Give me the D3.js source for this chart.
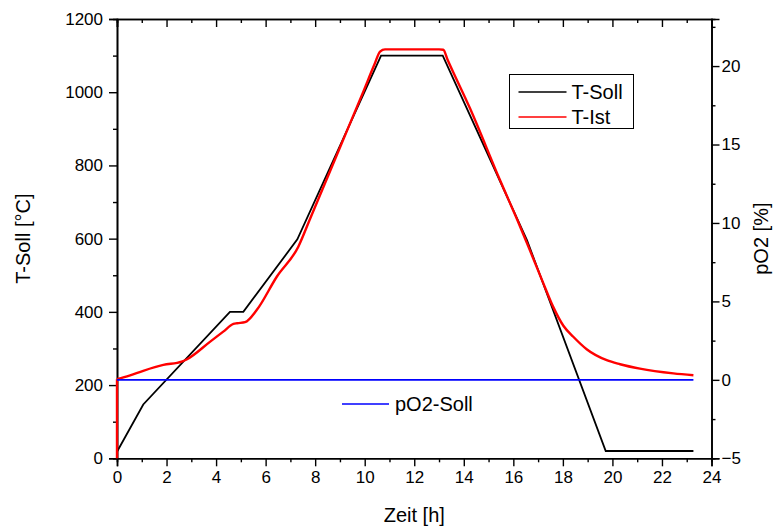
<!DOCTYPE html>
<html>
  <head>
    <meta charset="utf-8" />
    <style>
      body { margin: 0; background: #fff; }
      text { font-family: "Liberation Sans", Arial, sans-serif; fill: #000; }
    </style>
  </head>
  <body>
    <div id="chart"></div>
    <script src="https://d3js.org/d3.v7.min.js"></script>
    <script>
      // T-Soll (setpoint) in degC over time in h
      var sollHours = [0, 1.06, 4.56, 5.1, 7.28, 10.66, 13.15, 16.55, 19.73, 23.27];
      var sollTemp = [18, 147, 400, 400, 598, 1100, 1100, 596, 20, 20];

      // T-Ist (measured)
      var istHours = [0, 0, 0.5, 1.06, 1.87, 2.61, 2.81, 3.75, 4.29, 4.7, 4.85, 5.17, 5.64, 6.45, 7.32, 7.8,
        8.87, 9.94, 10.4, 10.62, 10.82, 11.0, 13.0, 13.17, 13.35, 14.25, 15.46, 16.2, 16.67, 17.2, 17.6,
        18.02, 18.42, 18.96, 19.77, 20.31, 21.11, 22.46, 23.27];
      var istTemp = [0, 216, 226, 239, 255, 264, 270, 318, 346, 367, 369, 372, 405, 496, 578, 655,
        828, 1001, 1077, 1111, 1117, 1117, 1117, 1116, 1088, 956, 760, 645, 568, 480, 415,
        362, 332, 298, 268, 257, 245, 232, 227];

      // pO2-Soll in % (right axis)
      var o2Hours = [0, 23.27];
      var o2Value = [0, 0];

      var xTicks = [0, 2, 4, 6, 8, 10, 12, 14, 16, 18, 20, 22, 24];
      var yTicks = [0, 200, 400, 600, 800, 1000, 1200];
      var y2Ticks = [-5, 0, 5, 10, 15, 20];

      var W = 774, H = 530;
      var margin = { top: 19, right: 62.5, bottom: 71.7, left: 117 };
      var width = W - margin.left - margin.right,
        height = H - margin.top - margin.bottom;

      var svg = d3.select("#chart").append("svg")
        .attr("width", W).attr("height", H);
      var g = svg.append("g")
        .attr("transform", "translate(" + margin.left + "," + margin.top + ")");

      var x = d3.scaleLinear().domain([0, 24]).range([0, width]);
      var y = d3.scaleLinear().domain([0, 1200]).range([height, 0]);
      var y2 = d3.scaleLinear().domain([-5, 23]).range([height, 0]);

      function styleAxis(sel) {
        sel.select(".domain").attr("stroke-width", 1.6);
        sel.selectAll(".tick line").attr("stroke-width", 1.4);
        sel.selectAll("text").style("font-size", "17px").attr("fill", "#000");
      }

      // minor ticks first (no labels)
      var minorX = d3.range(1, 24, 2), minorY = d3.range(100, 1200, 200), minorY2 = d3.range(-2.5, 23, 5);

      g.append("g").attr("transform", "translate(0," + height + ")")
        .call(d3.axisBottom(x).tickValues(minorX).tickSize(4).tickFormat(""))
        .call(styleAxis);
      g.append("g").attr("transform", "translate(0," + height + ")")
        .call(d3.axisBottom(x).tickValues(xTicks).tickSize(8).tickPadding(5).tickFormat(d3.format("d")))
        .call(styleAxis);

      g.append("g")
        .call(d3.axisTop(x).tickValues(minorX).tickSize(-4).tickFormat(""))
        .call(styleAxis);
      g.append("g")
        .call(d3.axisTop(x).tickValues(xTicks).tickSize(-8).tickFormat(""))
        .call(styleAxis);

      g.append("g")
        .call(d3.axisLeft(y).tickValues(minorY).tickSize(4).tickFormat(""))
        .call(styleAxis);
      g.append("g")
        .call(d3.axisLeft(y).tickValues(yTicks).tickSize(8).tickPadding(6).tickFormat(d3.format("d")))
        .call(styleAxis);

      g.append("g").attr("transform", "translate(" + width + ",0)")
        .call(d3.axisLeft(y2).tickValues(minorY2).tickSize(-4).tickFormat(""))
        .call(styleAxis);
      var r = g.append("g").attr("transform", "translate(" + width + ",0)")
        .call(d3.axisLeft(y2).tickValues(y2Ticks).tickSize(-8).tickFormat(d3.format("d")))
        .call(styleAxis);
      r.selectAll("text").attr("text-anchor", "start").attr("x", 10);

      // lines
      var sollData = sollHours.map(function (h, i) { return [h, sollTemp[i]]; });
      var istData = istHours.map(function (h, i) { return [h, istTemp[i]]; });
      var o2Data = o2Hours.map(function (h, i) { return [h, o2Value[i]]; });

      var line = d3.line().x(function (d) { return x(d[0]); }).y(function (d) { return y(d[1]); });
      var smooth = d3.line().curve(d3.curveMonotoneX)
        .x(function (d) { return x(d[0]); }).y(function (d) { return y(d[1]); });
      var line2 = d3.line().x(function (d) { return x(d[0]); }).y(function (d) { return y2(d[1]); });

      g.append("path").datum(sollData).attr("d", line)
        .attr("fill", "none").attr("stroke", "#000").attr("stroke-width", 1.8);
      // vertical start jump, then the smooth measured curve
      g.append("path").datum(istData.slice(0, 2)).attr("d", line)
        .attr("fill", "none").attr("stroke", "#ff0000").attr("stroke-width", 2.4);
      g.append("path").datum(istData.slice(1)).attr("d", smooth)
        .attr("fill", "none").attr("stroke", "#ff0000").attr("stroke-width", 2.4)
        .attr("stroke-linejoin", "round");
      g.append("path").datum(o2Data).attr("d", line2)
        .attr("fill", "none").attr("stroke", "#0000ff").attr("stroke-width", 1.8);

      // axis titles
      svg.append("text").attr("x", margin.left + x(12)).attr("y", 522)
        .attr("text-anchor", "middle").style("font-size", "20px").text("Zeit [h]");
      svg.append("text").attr("transform", "translate(30," + (margin.top + height / 2) + ") rotate(-90)")
        .attr("text-anchor", "middle").style("font-size", "20px").text("T-Soll [°C]");
      svg.append("text").attr("transform", "translate(768," + (margin.top + height / 2) + ") rotate(-90)")
        .attr("text-anchor", "middle").style("font-size", "20px").text("pO2 [%]");

      // legend box (T-Soll, T-Ist)
      var lg = svg.append("g").attr("transform", "translate(509.5,74.5)");
      lg.append("rect").attr("width", 124).attr("height", 54)
        .attr("fill", "#fff").attr("stroke", "#000").attr("stroke-width", 1);
      var items = [["T-Soll", "#000"], ["T-Ist", "#ff0000"]];
      items.forEach(function (it, i) {
        var cy = 17.5 + i * 25;
        lg.append("line").attr("x1", 9).attr("x2", 57).attr("y1", cy).attr("y2", cy)
          .attr("stroke", it[1]).attr("stroke-width", 1.6);
        lg.append("text").attr("x", 62).attr("y", cy + 7).style("font-size", "20px").text(it[0]);
      });

      // pO2 legend (no box)
      var lg2 = svg.append("g").attr("transform", "translate(342,404)");
      lg2.append("line").attr("x1", 0).attr("x2", 47).attr("y1", 0).attr("y2", 0)
        .attr("stroke", "#0000ff").attr("stroke-width", 1.6);
      lg2.append("text").attr("x", 53).attr("y", 7).style("font-size", "20px").text("pO2-Soll");
    </script>
  </body>
</html>
